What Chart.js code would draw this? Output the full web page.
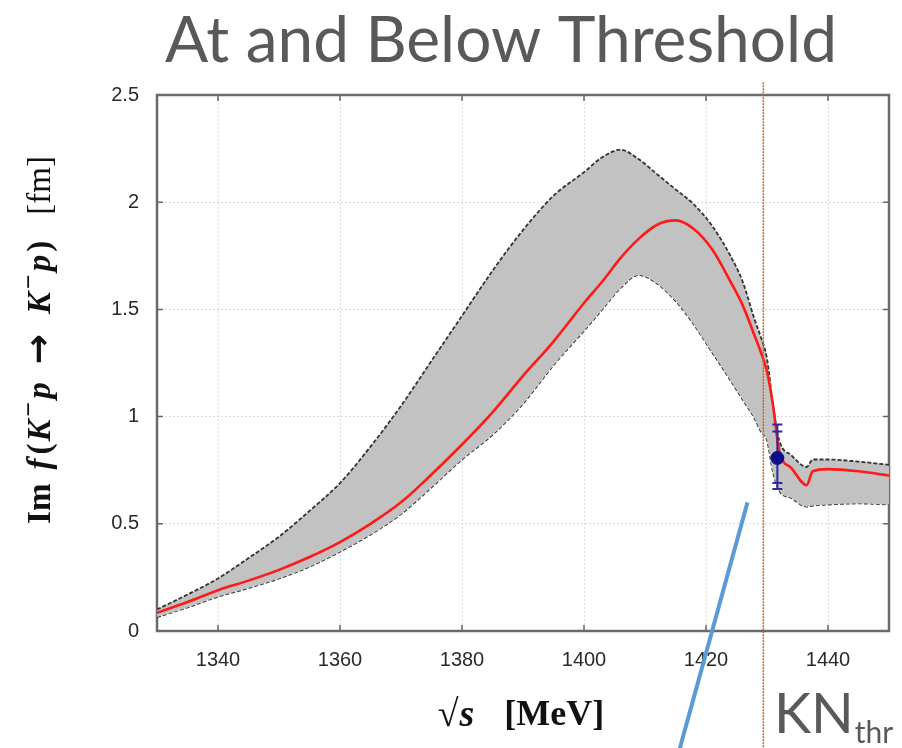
<!DOCTYPE html>
<html>
<head>
<meta charset="utf-8">
<script src="https://cdn.jsdelivr.net/npm/chart.js@4.4.1/dist/chart.umd.min.js"></script>
<style>
  html, body { margin: 0; padding: 0; background: #fff; }
  canvas { display: block; }
</style>
</head>
<body>
<canvas id="imChart" width="902" height="748"></canvas>
<script>
// sqrt(s) in MeV, Im f(K-p -> K-p) in fm
const energies = [1330, 1335, 1340, 1345, 1350, 1355, 1360, 1365, 1370, 1375, 1380, 1385, 1390, 1395,
  1400, 1403, 1406, 1409, 1412, 1415, 1418, 1421, 1424, 1426, 1428, 1429, 1430, 1431, 1432,
  1434, 1436.5, 1437.5, 1440, 1445, 1450];
const upperBand = [0.10, 0.17, 0.245, 0.34, 0.44, 0.56, 0.69, 0.86, 1.05, 1.26, 1.47, 1.68, 1.87, 2.03,
  2.14, 2.21, 2.245, 2.20, 2.13, 2.06, 1.99, 1.89, 1.75, 1.63, 1.45, 1.37, 1.27, 1.05, 0.89,
  0.82, 0.765, 0.80, 0.80, 0.79, 0.775];
const centralFit = [0.085, 0.135, 0.19, 0.235, 0.285, 0.345, 0.415, 0.50, 0.60, 0.73, 0.87, 1.02, 1.19, 1.35,
  1.53, 1.63, 1.74, 1.83, 1.895, 1.915, 1.875, 1.78, 1.63, 1.52, 1.375, 1.30, 1.21, 1.05, 0.84,
  0.76, 0.68, 0.745, 0.755, 0.745, 0.725];
const lowerBand = [0.065, 0.11, 0.16, 0.20, 0.245, 0.30, 0.37, 0.45, 0.545, 0.67, 0.80, 0.915, 1.06, 1.24,
  1.40, 1.50, 1.60, 1.66, 1.62, 1.54, 1.43, 1.30, 1.17, 1.08, 0.99, 0.93, 0.89, 0.74, 0.655,
  0.62, 0.58, 0.585, 0.59, 0.595, 0.59];

// SIDDHARTA point with error bars
const pointX = [1431.7];
const pointY = [0.807];
const errTotal = [[0.662, 0.963]];
const errStat = [[0.69, 0.93]];

// slide overlays, in data units
const thresholdX = [1429.4, 1429.4];
const thresholdY = [2.56, -0.6];
const arrowX = [1426.8, 1415.2];
const arrowY = [0.60, -0.6];

const xTicks = [1340, 1360, 1380, 1400, 1420, 1440];
const yTicks = [0, 0.5, 1, 1.5, 2, 2.5];

const pts = (xs, ys) => xs.map((x, i) => ({ x: x, y: ys[i] }));

const serif = '"Liberation Serif", "DejaVu Serif", serif';

function drawRich(ctx, segs, cx, cy, rot) {
  ctx.save();
  ctx.translate(cx, cy);
  if (rot) ctx.rotate(rot);
  let total = 0;
  segs.forEach(s => { ctx.font = s.f; s.w = ctx.measureText(s.t).width + (s.gap || 0); total += s.w; });
  let x = -total / 2;
  ctx.textBaseline = 'middle';
  ctx.textAlign = 'left';
  segs.forEach(s => {
    ctx.font = s.f;
    ctx.fillText(s.t, x, s.dy || 0);
    x += s.w;
  });
  ctx.restore();
}

const decorations = {
  id: 'decorations',
  beforeDatasetsDraw(chart) {
    const { ctx, chartArea: a, scales } = chart;
    ctx.save();
    // inner ticks
    ctx.strokeStyle = '#666';
    ctx.lineWidth = 1.5;
    xTicks.forEach(v => {
      const px = scales.x.getPixelForValue(v);
      ctx.beginPath();
      ctx.moveTo(px, a.bottom); ctx.lineTo(px, a.bottom - 6);
      ctx.moveTo(px, a.top); ctx.lineTo(px, a.top + 6);
      ctx.stroke();
    });
    yTicks.forEach(v => {
      const py = scales.y.getPixelForValue(v);
      ctx.beginPath();
      ctx.moveTo(a.left, py); ctx.lineTo(a.left + 6, py);
      ctx.moveTo(a.right, py); ctx.lineTo(a.right - 6, py);
      ctx.stroke();
    });
    // frame
    ctx.strokeStyle = '#6a6a6a';
    ctx.lineWidth = 2.5;
    ctx.strokeRect(a.left, a.top, a.right - a.left, a.bottom - a.top);
    ctx.restore();
  },
  afterDatasetDraw(chart, args) {
    if (args.index !== 0) return;
    const { ctx, scales } = chart;
    ctx.save();
    ctx.strokeStyle = '#2b2b9e';
    ctx.lineWidth = 2;
    pointX.forEach((x, i) => {
      const px = scales.x.getPixelForValue(x);
      const lo = scales.y.getPixelForValue(errTotal[i][0]);
      const hi = scales.y.getPixelForValue(errTotal[i][1]);
      const slo = scales.y.getPixelForValue(errStat[i][0]);
      const shi = scales.y.getPixelForValue(errStat[i][1]);
      ctx.beginPath();
      ctx.moveTo(px, lo); ctx.lineTo(px, hi);
      [lo, hi, slo, shi].forEach(py => { ctx.moveTo(px - 5, py); ctx.lineTo(px + 5, py); });
      ctx.stroke();
    });
    ctx.restore();
  },
  afterDraw(chart) {
    const { ctx } = chart;
    ctx.save();
    ctx.fillStyle = '#595959';
    ctx.textAlign = 'center';
    ctx.textBaseline = 'alphabetic';
    ctx.font = '64px Lato';
    ctx.fillText('At and Below Threshold', 501, 62);

    ctx.textAlign = 'left';
    ctx.font = '56px Lato';
    ctx.fillText('KN', 774, 733);
    const kw = ctx.measureText('KN').width;
    ctx.font = '30px Lato';
    ctx.fillText('thr', 774 + kw + 1, 743);

    // axis titles
    ctx.fillStyle = '#111';
    const b = 'bold 33px ' + serif;
    const bi = 'italic bold 33px ' + serif;
    const sup = 'bold 26px ' + serif;
    const n = '33px ' + serif;
    drawRich(ctx, [
      { t: 'Im', f: b, gap: 14 },
      { t: 'f', f: bi, gap: 4 },
      { t: '(', f: b, gap: 2 },
      { t: 'K', f: bi, gap: 3 },
      { t: '−', f: sup, dy: -11, gap: 3 },
      { t: 'p', f: bi, gap: 18 },
      { t: '→', f: 'bold 36px "DejaVu Sans"', gap: 20 },
      { t: 'K', f: bi, gap: 3 },
      { t: '−', f: sup, dy: -11, gap: 3 },
      { t: 'p', f: bi, gap: 3 },
      { t: ')', f: b, gap: 26 },
      { t: '[fm]', f: n }
    ], 41, 340, -Math.PI / 2);

    drawRich(ctx, [
      { t: '√', f: 'bold 38px ' + serif, gap: 1 },
      { t: 's', f: 'italic bold 38px ' + serif, gap: 30 },
      { t: '[MeV]', f: 'bold 36px ' + serif }
    ], 521, 716, 0);
    ctx.restore();
  }
};

const edgeStyle = {
  borderColor: '#333',
  borderWidth: 1.8,
  borderDash: [4, 2],
  pointRadius: 0,
  cubicInterpolationMode: 'monotone'
};

new Chart(document.getElementById('imChart'), {
  type: 'line',
  data: {
    datasets: [
      {
        label: 'central',
        data: pts(energies, centralFit),
        borderColor: '#ff1a1a',
        borderWidth: 2.6,
        pointRadius: 0,
        fill: false,
        cubicInterpolationMode: 'monotone',
        order: 2
      },
      Object.assign({
        label: 'upper',
        data: pts(energies, upperBand),
        fill: '+1',
        backgroundColor: '#c2c2c2',
        order: 4
      }, edgeStyle),
      Object.assign({
        label: 'lower',
        data: pts(energies, lowerBand),
        fill: false,
        order: 4
      }, edgeStyle),
      {
        label: 'data',
        data: pts(pointX, pointY),
        showLine: false,
        pointRadius: 6.5,
        pointBackgroundColor: '#0c0c8a',
        pointBorderColor: '#0c0c8a',
        order: 1
      },
      {
        label: 'threshold',
        data: pts(thresholdX, thresholdY),
        borderColor: '#c5661f',
        borderWidth: 1.5,
        borderDash: [2, 1],
        pointRadius: 0,
        clip: false,
        order: 0
      },
      {
        label: 'arrow',
        data: pts(arrowX, arrowY),
        borderColor: '#5b9bd5',
        borderWidth: 4,
        pointRadius: 0,
        clip: false,
        order: -1
      }
    ]
  },
  options: {
    responsive: false,
    animation: false,
    layout: { padding: { top: 95, right: 13, left: 0, bottom: 0 } },
    plugins: {
      legend: { display: false },
      title: { display: false },
      tooltip: { enabled: false }
    },
    scales: {
      x: {
        type: 'linear',
        min: 1330,
        max: 1450,
        afterBuildTicks: s => { s.ticks = xTicks.map(v => ({ value: v })); },
        afterFit: s => { s.height = 117; },
        grid: { color: '#dcdcdc', drawTicks: false },
        border: { display: false, dash: [2, 2] },
        ticks: {
          padding: 17,
          color: '#2a2a2a',
          maxRotation: 0,
          callback: v => String(v),
          font: { family: '"Liberation Sans", Arial, sans-serif', size: 20 }
        }
      },
      y: {
        min: 0,
        max: 2.5,
        afterBuildTicks: s => { s.ticks = yTicks.map(v => ({ value: v })); },
        afterFit: s => { s.width = 157; },
        grid: { color: '#dcdcdc', drawTicks: false },
        border: { display: false, dash: [2, 2] },
        ticks: {
          padding: 18,
          color: '#2a2a2a',
          callback: v => String(v),
          font: { family: '"Liberation Sans", Arial, sans-serif', size: 20 }
        }
      }
    }
  },
  plugins: [decorations]
});
</script>
</body>
</html>
